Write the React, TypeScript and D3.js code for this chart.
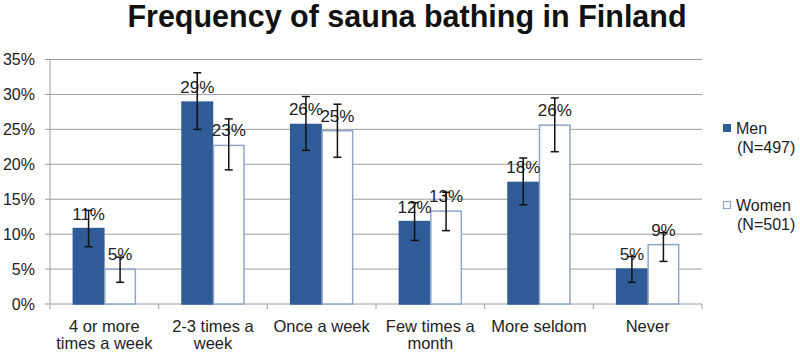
import React from "react";
import * as d3 from "d3";

const categories: string[][] = [
  ["4 or more", "times a week"],
  ["2-3 times a", "week"],
  ["Once a week"],
  ["Few times a", "month"],
  ["More seldom"],
  ["Never"],
];
const menValues = [10.8, 28.9, 25.7, 11.8, 17.4, 5.0];
const menLow = [8.2, 25.0, 22.0, 9.1, 14.2, 3.1];
const menHigh = [13.4, 33.1, 29.7, 14.5, 20.9, 6.8];
const menLabels = ["11%", "29%", "26%", "12%", "18%", "5%"];
const womenValues = [4.97, 22.7, 24.8, 13.3, 25.6, 8.5];
const womenLow = [3.1, 19.2, 21.0, 10.5, 21.8, 6.1];
const womenHigh = [6.7, 26.5, 28.6, 16.0, 29.5, 10.2];
const womenLabels = ["5%", "23%", "25%", "13%", "26%", "9%"];
const yTicks = [0, 5, 10, 15, 20, 25, 30, 35];

const W = 800;
const H = 352;
const plotLeft = 50;
const plotRight = 702;
const plotTop = 59.5;
const plotBottom = 304;
const MEN = "#2F5C97";
const WOMEN_BORDER = "#8EA6C8";
const GRID = "#9E9E9E";
const FONT = "'Liberation Sans', Arial, sans-serif";

export default function App() {
  const x = d3.scaleBand<number>().domain(d3.range(categories.length)).range([plotLeft, plotRight]).padding(0);
  const y = d3.scaleLinear().domain([0, 35]).range([plotBottom, plotTop]);
  const groupW = 63;
  const sub = d3.scaleBand<number>().domain([0, 1]).range([0, groupW]).padding(0);
  const series = [
    { vals: menValues, lo: menLow, hi: menHigh, labels: menLabels, fill: MEN, stroke: MEN },
    { vals: womenValues, lo: womenLow, hi: womenHigh, labels: womenLabels, fill: "#FFFFFF", stroke: WOMEN_BORDER },
  ];
  const bw = sub.bandwidth();
  const boundaries = d3.range(categories.length + 1).map((i) => plotLeft + i * x.step());

  return (
    <svg width={W} height={H} style={{ position: "absolute", left: 0, top: 0, background: "#fff" }} fontFamily={FONT}>
      <rect x={0} y={0} width={W} height={H} fill="#fff" />
      <text x={407} y={27} textAnchor="middle" fontSize={30.5} fontWeight="bold" fill="#111">
        Frequency of sauna bathing in Finland
      </text>
      {yTicks.map((t) => (
        <g key={t}>
          {t > 0 && <line x1={plotLeft} x2={plotRight} y1={y(t)} y2={y(t)} stroke={GRID} strokeWidth={1} />}
          <line x1={plotLeft - 5} x2={plotLeft} y1={y(t)} y2={y(t)} stroke={GRID} strokeWidth={1} />
          <text x={35} y={y(t) + 5.5} textAnchor="end" fontSize={16} fill="#222">
            {t}%
          </text>
        </g>
      ))}
      <line x1={plotLeft} x2={plotLeft} y1={plotTop} y2={plotBottom} stroke={GRID} />
      <line x1={plotLeft} x2={plotRight} y1={plotBottom} y2={plotBottom} stroke={GRID} />
      {boundaries.map((b, i) => (
        <line key={i} x1={b} x2={b} y1={plotBottom} y2={plotBottom + 5} stroke={GRID} />
      ))}
      {categories.map((c, i) => {
        const gx = (x(i) as number) + (x.bandwidth() - groupW) / 2;
        return (
          <g key={i}>
            {series.map((s, j) => {
              const bx = gx + (sub(j) as number);
              const top = y(s.vals[i]);
              return (
                <rect key={j} x={bx + 0.5} y={top} width={bw - 1} height={plotBottom - top} fill={s.fill} stroke={s.stroke} strokeWidth={1.5} />
              );
            })}
            {series.map((s, j) => {
              const bx = gx + (sub(j) as number);
              const top = y(s.vals[i]);
              const cx = bx + bw / 2;
              return (
                <g key={"e" + j}>
                  <text x={cx} y={top - 9} textAnchor="middle" fontSize={17} fill="#222">
                    {s.labels[i]}
                  </text>
                  <line x1={cx} x2={cx} y1={y(s.hi[i])} y2={y(s.lo[i])} stroke="#111" strokeWidth={1.5} />
                  <line x1={cx - 4} x2={cx + 4} y1={y(s.hi[i])} y2={y(s.hi[i])} stroke="#111" strokeWidth={1.5} />
                  <line x1={cx - 4} x2={cx + 4} y1={y(s.lo[i])} y2={y(s.lo[i])} stroke="#111" strokeWidth={1.5} />
                </g>
              );
            })}
            {c.map((line, k) => (
              <text key={k} x={(x(i) as number) + x.bandwidth() / 2} y={332 + k * 17} textAnchor="middle" fontSize={16.5} fill="#222">
                {line}
              </text>
            ))}
          </g>
        );
      })}
      <rect x={723} y={124} width={8} height={8} fill={MEN} />
      <text x={736} y={134} fontSize={16} fill="#222">Men</text>
      <text x={737} y={153} fontSize={16} fill="#222">(N=497)</text>
      <rect x={723.5} y={201.5} width={7} height={7} fill="#fff" stroke={WOMEN_BORDER} strokeWidth={1.2} />
      <text x={736} y={211} fontSize={16} fill="#222">Women</text>
      <text x={737} y={230} fontSize={16} fill="#222">(N=501)</text>
    </svg>
  );
}
